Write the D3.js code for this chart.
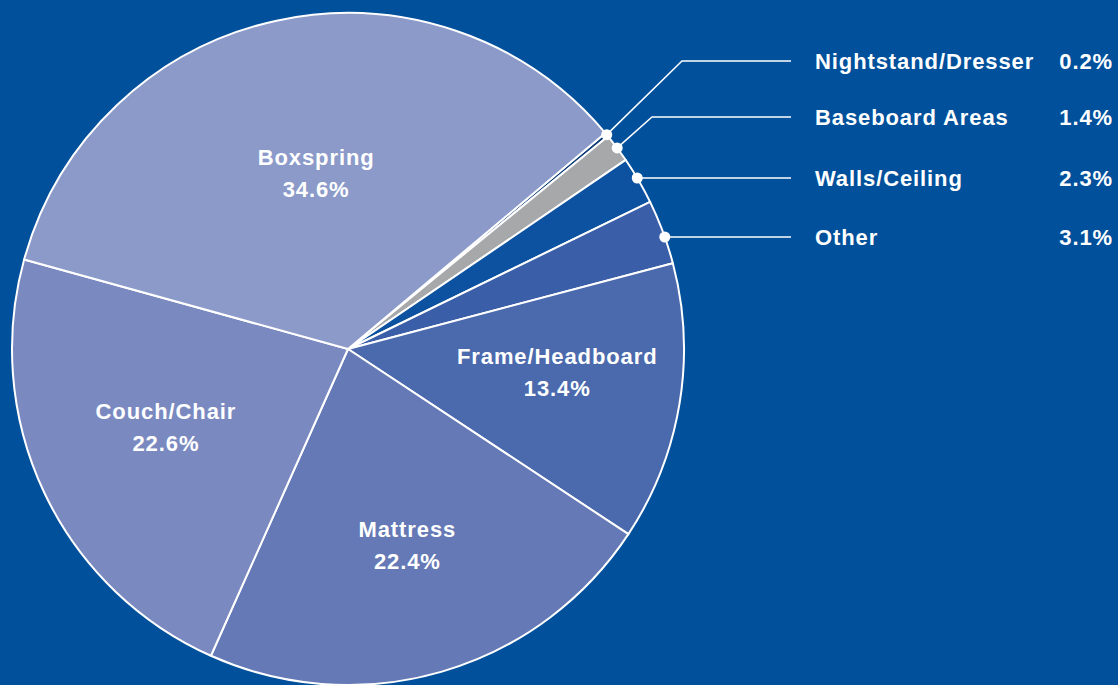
<!DOCTYPE html>
<html>
<head>
<meta charset="utf-8">
<script src="https://cdn.jsdelivr.net/npm/d3@7"></script>
<style>
  html, body { margin: 0; padding: 0; background: #00509c; }
  svg { display: block; }
</style>
</head>
<body>
<div id="chart"></div>
<script>
const categories = ["Nightstand/Dresser", "Baseboard Areas", "Walls/Ceiling", "Other",
                    "Frame/Headboard", "Mattress", "Couch/Chair", "Boxspring"];
const shares = [0.2, 1.4, 2.3, 3.1, 13.4, 22.4, 22.6, 34.6];
const sliceColors = ["#0b3a76", "#a7a8aa", "#0c52a0", "#3a5ea8",
                     "#4b6aad", "#6479b5", "#7a89c0", "#8b9ac9"];

// small slices get callouts on the right, big ones are labelled inside
const calloutNames = ["Nightstand/Dresser", "Baseboard Areas", "Walls/Ceiling", "Other"];
const calloutY = [61, 117, 178, 237];
const calloutElbowX = [682, 652, null, null];
// inner label placement, tuned by eye: distance from centre plus a small nudge
const innerLabelRadius = { "Boxspring": 178, "Couch/Chair": 198, "Mattress": 205, "Frame/Headboard": 210 };
const innerLabelNudge = { "Boxspring": [6, -2], "Couch/Chair": [-3, -6], "Mattress": [2, -1], "Frame/Headboard": [2, -11] };

const W = 1118, H = 685;
const cx = 348, cy = 349, R = 336;
const FONT = "'Liberation Sans', Arial, Helvetica, sans-serif";
const FONT_SIZE = 22;
const LETTER_SP = 0.9;

const data = categories.map((c, i) => ({ name: c, value: shares[i], color: sliceColors[i] }));

const svg = d3.select("#chart").append("svg")
    .attr("width", W)
    .attr("height", H);

svg.append("rect").attr("width", W).attr("height", H).attr("fill", "#00509c");

const pie = d3.pie()
    .sort(null)
    .value(d => d.value)
    .startAngle(50 * Math.PI / 180)
    .endAngle(410 * Math.PI / 180);

const arcs = pie(data);
const arc = d3.arc().innerRadius(0).outerRadius(R);

const g = svg.append("g").attr("transform", `translate(${cx},${cy})`);

g.selectAll("path.slice")
    .data(arcs)
    .join("path")
    .attr("class", "slice")
    .attr("d", arc)
    .attr("fill", d => d.data.color)
    .attr("stroke", "#fff")
    .attr("stroke-width", 2)
    .attr("stroke-linejoin", "round");

// inside labels
const inner = arcs.filter(d => !calloutNames.includes(d.data.name));
const innerText = g.selectAll("text.inner")
    .data(inner)
    .join("text")
    .attr("class", "inner")
    .attr("text-anchor", "middle")
    .attr("font-family", FONT)
    .attr("font-weight", "bold")
    .attr("font-size", FONT_SIZE)
    .attr("letter-spacing", LETTER_SP)
    .attr("fill", "#fff")
    .attr("transform", d => {
        const r = innerLabelRadius[d.data.name];
        const [x, y] = d3.arc().innerRadius(r).outerRadius(r).centroid(d);
        const [nx, ny] = innerLabelNudge[d.data.name];
        return `translate(${x + nx},${y + ny})`;
    });
innerText.append("tspan").attr("x", 0).attr("y", -8).text(d => d.data.name);
innerText.append("tspan").attr("x", 0).attr("y", 24).text(d => d.data.value.toFixed(1) + "%");

// callouts
const lineEndX = 791 - cx;
const textX = 815 - cx;
const pctX = 1113 - cx;

calloutNames.forEach((name, i) => {
    const d = arcs.find(a => a.data.name === name);
    const mid = (d.startAngle + d.endAngle) / 2;
    const px = R * Math.sin(mid), py = -R * Math.cos(mid);
    const ly = calloutY[i] - cy;
    let dot;
    const pts = [];
    if (calloutElbowX[i] !== null) {
        dot = [px, py];
        pts.push(dot, [calloutElbowX[i] - cx, ly]);
    } else {
        // horizontal leader: put the dot where that line meets the rim
        const dx = Math.sqrt(R * R - ly * ly);
        dot = [dx, ly];
        pts.push(dot);
    }
    pts.push([lineEndX, ly]);

    g.append("path")
        .attr("d", d3.line()(pts))
        .attr("fill", "none")
        .attr("stroke", "#fff")
        .attr("stroke-width", 1.5);

    g.append("circle")
        .attr("cx", dot[0])
        .attr("cy", dot[1])
        .attr("r", 5.5)
        .attr("fill", "#fff");

    g.append("text")
        .attr("x", textX)
        .attr("y", ly + 7.5)
        .attr("font-family", FONT)
        .attr("font-weight", "bold")
        .attr("font-size", FONT_SIZE)
        .attr("letter-spacing", LETTER_SP)
        .attr("fill", "#fff")
        .text(name);

    g.append("text")
        .attr("x", pctX)
        .attr("y", ly + 7.5)
        .attr("text-anchor", "end")
        .attr("font-family", FONT)
        .attr("font-weight", "bold")
        .attr("font-size", FONT_SIZE)
        .attr("letter-spacing", LETTER_SP)
        .attr("fill", "#fff")
        .text(d.data.value.toFixed(1) + "%");
});
</script>
</body>
</html>
